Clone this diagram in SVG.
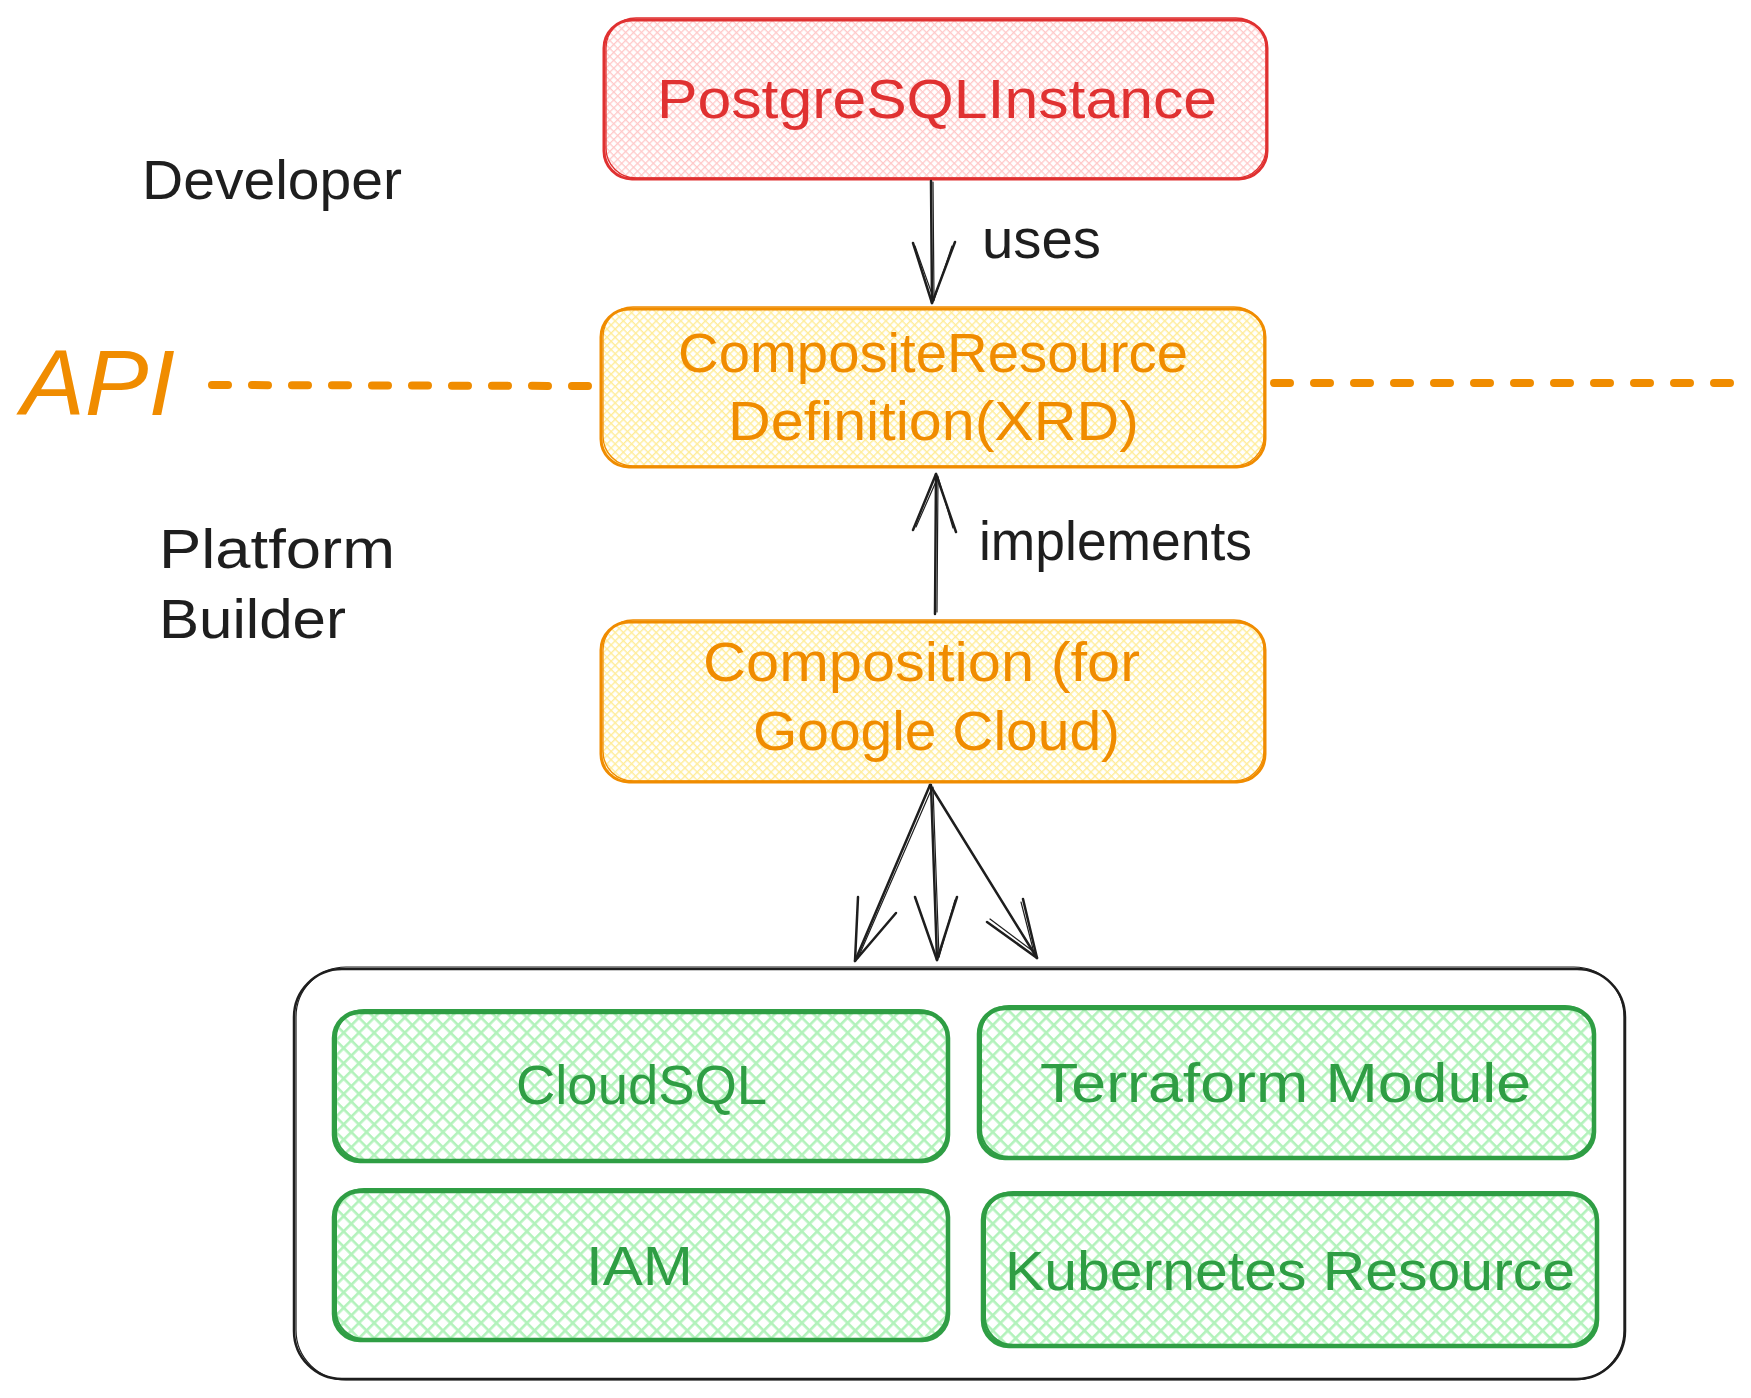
<svg xmlns="http://www.w3.org/2000/svg" width="1751" height="1398" viewBox="0 0 1751 1398">
  <style>
    .t { font-family: "Liberation Sans", Arial, sans-serif; font-size: 56px; }
    .red { fill: #e03131; }
    .org { fill: #f08c00; }
    .grn { fill: #2f9e44; }
    .blk { fill: #1e1e1e; }
    .box-red { fill: url(#hatchRed); stroke: #e03131; stroke-width: 3; }
    .box-org { fill: url(#hatchOrg); stroke: #f08c00; stroke-width: 3; }
    .box-grn { fill: url(#hatchGrn); stroke: #2f9e44; stroke-width: 4.5; }
    .rough-red { fill: none; stroke: #e03131; stroke-width: 1.3; }
    .rough-org { fill: none; stroke: #f08c00; stroke-width: 1.3; }
    .rough-grn { fill: none; stroke: #2f9e44; stroke-width: 2; }
    .cont { fill: none; stroke: #1e1e1e; stroke-width: 2.5; }
    .rough-blk { fill: none; stroke: #1e1e1e; stroke-width: 1.2; }
    .arr { fill: none; stroke: #1e1e1e; stroke-width: 2.5; stroke-linecap: round; stroke-linejoin: round; }
    .arr2 { fill: none; stroke: #1e1e1e; stroke-width: 1.2; stroke-linecap: round; }
    .dash { fill: none; stroke: #f08c00; stroke-width: 8; stroke-linecap: round; stroke-dasharray: 16 24; }
  </style>
  <defs>
    <pattern id="hatchRed" width="5.6" height="5.6" patternUnits="userSpaceOnUse" patternTransform="rotate(45)">
      <rect x="0" y="0" width="5.6" height="1.3" fill="#ffc9c9"/>
      <rect x="0" y="0" width="1.3" height="5.6" fill="#ffc9c9"/>
    </pattern>
    <pattern id="hatchOrg" width="5.8" height="5.8" patternUnits="userSpaceOnUse" patternTransform="rotate(45)">
      <rect x="0" y="0" width="5.8" height="1.4" fill="#ffec99"/>
      <rect x="0" y="0" width="1.4" height="5.8" fill="#ffec99"/>
    </pattern>
    <pattern id="hatchGrn" width="10.8" height="10.8" patternUnits="userSpaceOnUse" patternTransform="rotate(45)">
      <rect x="0" y="0" width="10.8" height="2.6" fill="#b2f2bb"/>
      <rect x="0" y="0" width="2.6" height="10.8" fill="#b2f2bb"/>
    </pattern>
  </defs>

  <rect width="1751" height="1398" fill="#ffffff"/>

  <!-- free labels -->
  <g id="label-developer">
    <text class="t blk" x="142" y="199" textLength="260" lengthAdjust="spacingAndGlyphs">Developer</text>
  </g>
  <g id="label-platform-builder">
    <text class="t blk" x="159" y="568" textLength="236" lengthAdjust="spacingAndGlyphs">Platform</text>
    <text class="t blk" x="159" y="638" textLength="187" lengthAdjust="spacingAndGlyphs">Builder</text>
  </g>
  <g id="label-api">
    <text class="t org" x="21" y="415" style="font-size:92px;font-style:italic" textLength="154" lengthAdjust="spacingAndGlyphs">API</text>
  </g>

  <!-- container -->
  <g id="container">
    <rect class="cont" x="294" y="969" width="1331" height="410" rx="48"/>
    <rect class="rough-blk" x="296" y="967" width="1328" height="413" rx="50"/>
  </g>

  <!-- nodes -->
  <g id="node-postgresql">
    <rect class="box-red" x="604" y="20" width="663" height="159" rx="28"/>
    <rect class="rough-red" x="606" y="18" width="660" height="160" rx="30"/>
    <text class="t red" x="937" y="118" text-anchor="middle" textLength="560" lengthAdjust="spacingAndGlyphs">PostgreSQLInstance</text>
  </g>

  <g id="node-xrd">
    <rect class="box-org" x="601" y="309" width="664" height="158" rx="28"/>
    <rect class="rough-org" x="603" y="307" width="661" height="159" rx="30"/>
    <text class="t org" x="933" y="372" text-anchor="middle" textLength="510" lengthAdjust="spacingAndGlyphs">CompositeResource</text>
    <text class="t org" x="933.5" y="440" text-anchor="middle" textLength="411" lengthAdjust="spacingAndGlyphs">Definition(XRD)</text>
  </g>

  <g id="node-composition">
    <rect class="box-org" x="601" y="622" width="664" height="160" rx="28"/>
    <rect class="rough-org" x="603" y="620" width="661" height="161" rx="30"/>
    <text class="t org" x="921.5" y="681" text-anchor="middle" textLength="437" lengthAdjust="spacingAndGlyphs">Composition (for</text>
    <text class="t org" x="936.5" y="750" text-anchor="middle" textLength="367" lengthAdjust="spacingAndGlyphs">Google Cloud)</text>
  </g>

  <g id="node-cloudsql">
    <rect class="box-grn" x="334" y="1012" width="614" height="149" rx="26"/>
    <rect class="rough-grn" x="336" y="1010" width="611" height="150" rx="28"/>
    <text class="t grn" x="641.5" y="1104" text-anchor="middle" textLength="251" lengthAdjust="spacingAndGlyphs">CloudSQL</text>
  </g>

  <g id="node-terraform">
    <rect class="box-grn" x="979" y="1008" width="615" height="150" rx="26"/>
    <rect class="rough-grn" x="981" y="1006" width="612" height="151" rx="28"/>
    <text class="t grn" x="1285.5" y="1102" text-anchor="middle" textLength="491" lengthAdjust="spacingAndGlyphs">Terraform Module</text>
  </g>

  <g id="node-iam">
    <rect class="box-grn" x="334" y="1191" width="614" height="149" rx="26"/>
    <rect class="rough-grn" x="336" y="1189" width="611" height="150" rx="28"/>
    <text class="t grn" x="639.5" y="1285" text-anchor="middle" textLength="107" lengthAdjust="spacingAndGlyphs">IAM</text>
  </g>

  <g id="node-kubernetes">
    <rect class="box-grn" x="983" y="1194" width="614" height="152" rx="26"/>
    <rect class="rough-grn" x="985" y="1192" width="611" height="153" rx="28"/>
    <text class="t grn" x="1290" y="1290" text-anchor="middle" textLength="570" lengthAdjust="spacingAndGlyphs">Kubernetes Resource</text>
  </g>

  <!-- connectors -->
  <g id="connectors">
    <path class="dash" d="M212,385 L588,386"/>
    <path class="dash" d="M1274,383 L1730,383"/>

    <!-- uses -->
    <path class="arr" d="M931,181 L932,303"/>
    <path class="arr2" d="M933,182 L934,300"/>
    <path class="arr" d="M913,243 L932,303 L955,242"/>
    <path class="arr2" d="M915,246 L934,300 L952,246"/>
    <text class="t blk" x="982" y="258" textLength="119" lengthAdjust="spacingAndGlyphs">uses</text>

    <!-- implements -->
    <path class="arr" d="M935,614 L936,474"/>
    <path class="arr2" d="M937,612 L938,477"/>
    <path class="arr" d="M913,530 L936,474 L956,532"/>
    <path class="arr2" d="M916,527 L938,477 L953,528"/>
    <text class="t blk" x="979" y="560" textLength="273" lengthAdjust="spacingAndGlyphs">implements</text>

    <!-- composition to resources -->
    <path class="arr" d="M930,785 L855,961"/>
    <path class="arr2" d="M932,788 L858,958"/>
    <path class="arr" d="M858,897 L855,961 L896,913"/>

    <path class="arr" d="M931,785 L937,960"/>
    <path class="arr2" d="M933,787 L939,957"/>
    <path class="arr" d="M915,897 L937,960 L957,897"/>
    <path class="arr2" d="M955,900 L939,957"/>

    <path class="arr" d="M930,785 L1037,958"/>
    <path class="arr" d="M987,922 L1037,958 L1023,899"/>
    <path class="arr2" d="M990,919 L1034,952"/>
    <path class="arr2" d="M1021,902 L1034,953"/>
  </g>
</svg>
